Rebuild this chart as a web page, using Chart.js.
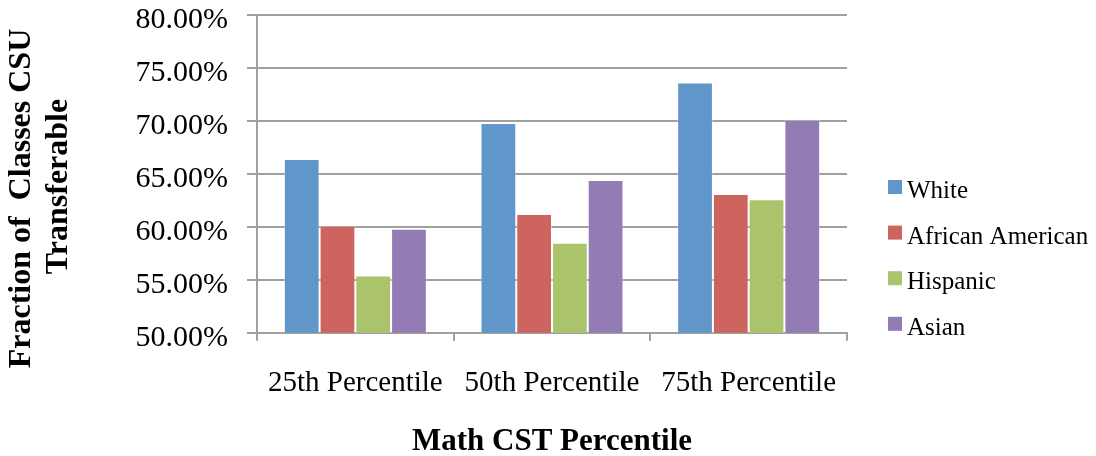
<!DOCTYPE html>
<html>
<head>
    <title>Math CST Percentile</title>
    <script src="https://cdn.jsdelivr.net/npm/chart.js"></script>
    <style>
        body { margin: 0; background: white; }
        .chart-container { width: 1096px; height: 456px; }
    </style>
</head>
<body>
    <div class="chart-container">
        <canvas id="cstChart"></canvas>
    </div>

    <script>
        const categories = ['25th Percentile', '50th Percentile', '75th Percentile'];
        const groups = ['White', 'African American', 'Hispanic', 'Asian'];
        const white = [66.4, 69.8, 73.6];
        const africanAmerican = [60.1, 61.2, 63.1];
        const hispanic = [55.4, 58.5, 62.6];
        const asian = [59.8, 64.4, 70.1];
        const colors = ['#6096ca', '#cd655e', '#abc46c', '#937bb3'];

        const yTitle = ['Fraction of  Classes CSU', 'Transferable'];
        const xTitle = 'Math CST Percentile';

        const serif = '"Liberation Serif", "Times New Roman", serif';
        const gridColor = '#a0a0a0';

        // legend on the right, drawn by hand so the rows line up with the original
        const sideLegend = {
            id: 'sideLegend',
            afterDraw(chart) {
                const ctx = chart.ctx;
                ctx.save();
                ctx.font = '25px ' + serif;
                ctx.textBaseline = 'alphabetic';
                ctx.textAlign = 'left';
                chart.data.datasets.forEach((ds, i) => {
                    const top = 180 + i * 45.6;
                    ctx.fillStyle = ds.backgroundColor;
                    ctx.fillRect(888, top, 14, 14);
                    ctx.fillStyle = '#000';
                    ctx.fillText(ds.label, 907, top + 18);
                });
                ctx.restore();
            }
        };

        // two line rotated y title, each line centred on its own spot
        const sideTitle = {
            id: 'sideTitle',
            afterDraw(chart) {
                const ctx = chart.ctx;
                ctx.save();
                ctx.font = 'bold 32px ' + serif;
                ctx.fillStyle = '#000';
                ctx.textAlign = 'center';
                ctx.textBaseline = 'middle';
                const spots = [[22, 198.5], [58.5, 186.5]];
                yTitle.forEach((line, i) => {
                    ctx.save();
                    ctx.translate(spots[i][0], spots[i][1]);
                    ctx.rotate(-Math.PI / 2);
                    ctx.fillText(line, 0, 0);
                    ctx.restore();
                });
                ctx.restore();
            }
        };

        const series = [white, africanAmerican, hispanic, asian];

        new Chart(document.getElementById('cstChart').getContext('2d'), {
            type: 'bar',
            data: {
                labels: categories,
                datasets: groups.map((g, i) => ({
                    label: g,
                    data: series[i],
                    backgroundColor: colors[i],
                    borderColor: 'rgba(255, 255, 255, 0.35)',
                    borderWidth: 1,
                    barPercentage: 1,
                    categoryPercentage: 0.727
                }))
            },
            options: {
                responsive: true,
                maintainAspectRatio: false,
                animation: false,
                layout: { padding: { top: 14.8, right: 249, left: 0, bottom: 0 } },
                plugins: {
                    legend: { display: false },
                    tooltip: { enabled: false }
                },
                scales: {
                    x: {
                        afterFit: (scale) => {
                            scale.height = 123.3;
                            scale.paddingLeft = 0;
                            scale.paddingRight = 0;
                        },
                        grid: {
                            offset: true,
                            drawOnChartArea: false,
                            drawTicks: true,
                            tickLength: 8,
                            color: gridColor,
                            lineWidth: 2
                        },
                        border: { color: gridColor, width: 2 },
                        ticks: {
                            color: '#000',
                            padding: 25,
                            maxRotation: 0,
                            font: { family: serif, size: 29 }
                        },
                        title: {
                            display: true,
                            text: xTitle,
                            color: '#000',
                            padding: { top: 0, bottom: 0 },
                            font: { family: serif, size: 31, weight: 'bold', lineHeight: 0.9 }
                        }
                    },
                    y: {
                        min: 50,
                        max: 80,
                        afterFit: (scale) => {
                            scale.width = 257;
                            scale.paddingTop = 0;
                            scale.paddingBottom = 0;
                        },
                        grid: {
                            drawTicks: true,
                            tickLength: 10,
                            color: gridColor,
                            lineWidth: 2
                        },
                        border: { color: gridColor, width: 2 },
                        ticks: {
                            stepSize: 5,
                            color: '#000',
                            padding: 19,
                            labelOffset: 5,
                            font: { family: serif, size: 30 },
                            callback: (v) => v.toFixed(2) + '%'
                        }
                    }
                }
            },
            plugins: [sideLegend, sideTitle]
        });
    </script>
</body>
</html>
